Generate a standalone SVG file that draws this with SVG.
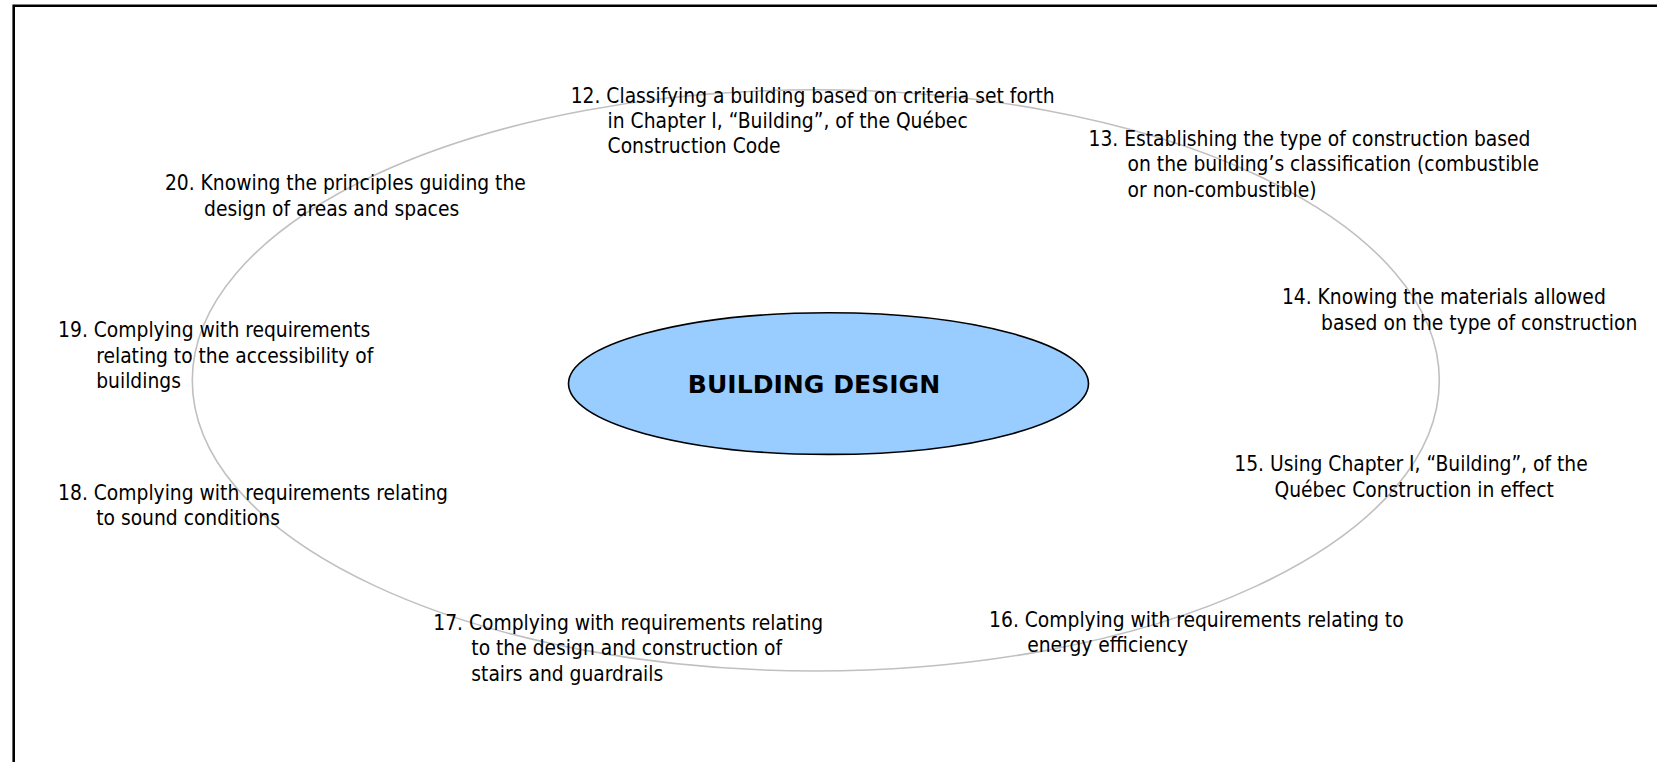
<svg xmlns="http://www.w3.org/2000/svg" width="1657" height="762" viewBox="0 0 1657 762">
<style>
.t{font-family:"DejaVu Sans Condensed","DejaVu Sans",sans-serif;font-stretch:condensed;font-size:20.8px;fill:#000}
.title{font-family:"DejaVu Sans",sans-serif;font-weight:bold;font-size:25.1px;fill:#000}
.ring{fill:none;stroke:#c0c0c0;stroke-width:1.6}
.hub{fill:#99ccff;stroke:#000;stroke-width:1.6}
</style>
<rect width="1657" height="762" fill="#fff"/>
<path d="M13.7,762 V5.8 H1657" fill="none" stroke="#000" stroke-width="2.6"/>
<g id="connectors">
<ellipse class="ring" cx="815.8" cy="380.4" rx="623.5" ry="290.6"/>
</g>
<g id="hub">
<ellipse class="hub" cx="828.5" cy="383.6" rx="260" ry="70.8"/>
<text class="title" x="814" y="393.1" text-anchor="middle">BUILDING DESIGN</text>
</g>
<g id="n12"><text class="t" x="570.7" y="102.5">12. Classifying a building based on criteria set forth</text><text class="t" x="607.6" y="127.9">in Chapter I, “Building”, of the Québec</text><text class="t" x="607.6" y="153.2">Construction Code</text></g>
<g id="n13"><text class="t" x="1088.5" y="145.8">13. Establishing the type of construction based</text><text class="t" x="1127.6" y="171.2">on the building’s classification (combustible</text><text class="t" x="1127.6" y="196.6">or non-combustible)</text></g>
<g id="n14"><text class="t" x="1281.9" y="304.3">14. Knowing the materials allowed</text><text class="t" x="1321" y="329.7">based on the type of construction</text></g>
<g id="n15"><text class="t" x="1234.3" y="471.3">15. Using Chapter I, “Building”, of the</text><text class="t" x="1274.5" y="496.7">Québec Construction in effect</text></g>
<g id="n16"><text class="t" x="989.1" y="626.7">16. Complying with requirements relating to</text><text class="t" x="1027.2" y="652">energy efficiency</text></g>
<g id="n17"><text class="t" x="433.3" y="629.8">17. Complying with requirements relating</text><text class="t" x="471.3" y="655.2">to the design and construction of</text><text class="t" x="471.3" y="680.6">stairs and guardrails</text></g>
<g id="n18"><text class="t" x="58.1" y="499.8">18. Complying with requirements relating</text><text class="t" x="96.2" y="525.2">to sound conditions</text></g>
<g id="n19"><text class="t" x="58.1" y="337.1">19. Complying with requirements</text><text class="t" x="96.2" y="362.5">relating to the accessibility of</text><text class="t" x="96.2" y="387.8">buildings</text></g>
<g id="n20"><text class="t" x="164.9" y="190.2">20. Knowing the principles guiding the</text><text class="t" x="204" y="215.6">design of areas and spaces</text></g>
</svg>
